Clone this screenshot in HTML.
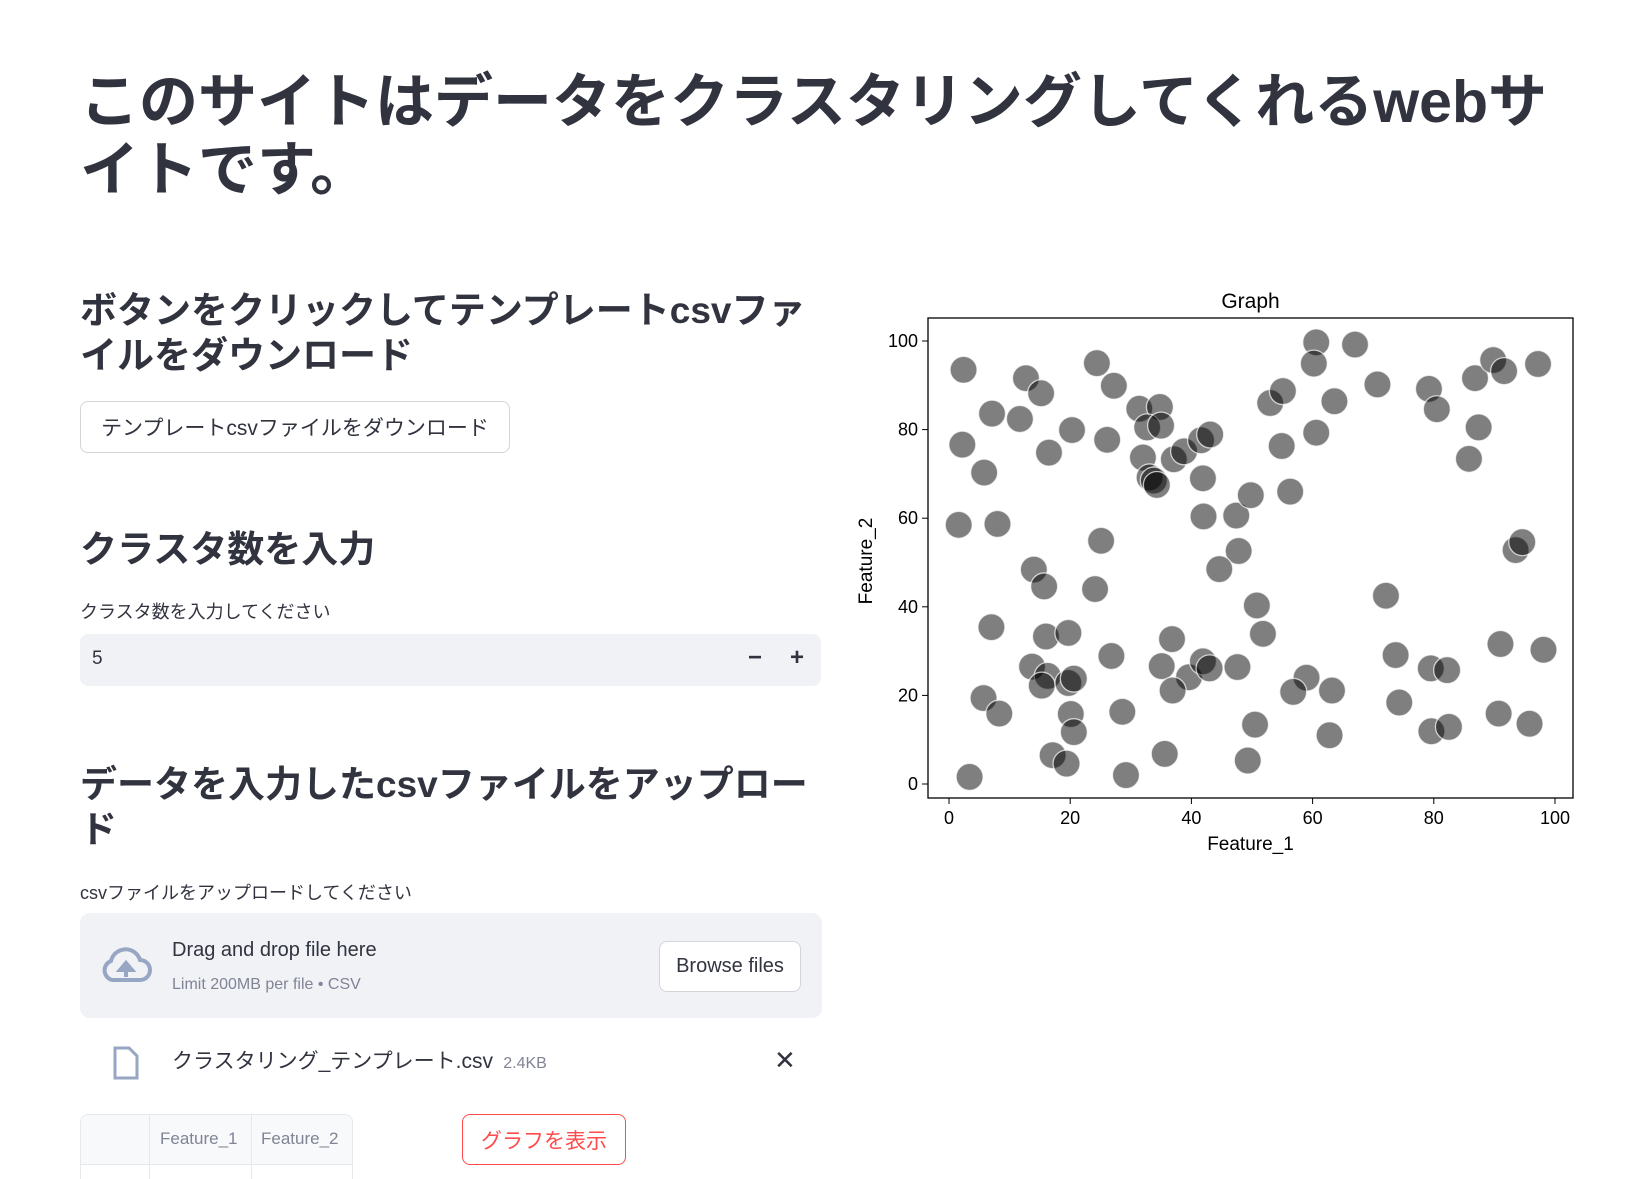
<!DOCTYPE html>
<html style="overflow:hidden;width:1639px;height:1179px"><head><meta charset="utf-8">
<style>
html,body{margin:0;width:1639px;height:1179px;overflow:hidden}
body{background:#fff;font-family:"Liberation Sans","Noto Sans CJK JP",sans-serif;color:#31333f;position:relative}
.a{position:absolute;white-space:nowrap}
h1{position:absolute;left:80px;top:68px;margin:0;font-size:59px;line-height:68px;font-weight:700;width:1550px;white-space:nowrap}
h2{position:absolute;margin:0;font-size:37px;line-height:45px;font-weight:700;left:80px;white-space:nowrap}
.btn{position:absolute;border:1px solid #d3d5db;border-radius:8px;background:#fff;display:flex;align-items:center;justify-content:center;box-sizing:border-box}
.lbl{position:absolute;left:80px;font-size:18px}
</style></head><body>
<h1>このサイトはデータをクラスタリングしてくれるwebサ<br>イトです。</h1>
<h2 style="top:288px">ボタンをクリックしてテンプレートcsvファ<br>イルをダウンロード</h2>
<div class="btn" style="left:80px;top:401px;width:430px;height:52px;font-size:21px">テンプレートcsvファイルをダウンロード</div>
<h2 style="top:527px">クラスタ数を入力</h2>
<div class="lbl" style="top:598px">クラスタ数を入力してください</div>
<div style="position:absolute;left:80px;top:634px;width:741px;height:52px;background:#f0f2f6;border-radius:8px">
<span class="a" style="left:12px;top:14px;font-size:19px">5</span>
<span class="a" style="left:668px;top:10px;font-size:24px;font-weight:700">−</span>
<span class="a" style="left:710px;top:10px;font-size:24px;font-weight:700">+</span>
</div>
<h2 style="top:762px">データを入力したcsvファイルをアップロー<br>ド</h2>
<div class="lbl" style="top:879px">csvファイルをアップロードしてください</div>
<div style="position:absolute;left:80px;top:913px;width:742px;height:105px;background:#f0f2f6;border-radius:10px">
<svg class="a" style="left:20px;top:34px" width="52" height="36" viewBox="0 0 52 36"><path d="M12 33 H40 A10 10 0 0 0 40 13 A15 15 0 0 0 11 14 A10 10 0 0 0 12 33Z" fill="none" stroke="#97a6c3" stroke-width="4"/><path d="M26 30 V18 M20 23 L26 16 L32 23Z" stroke="#97a6c3" stroke-width="4" fill="#97a6c3"/></svg>
<span class="a" style="left:92px;top:26px;font-size:20px">Drag and drop file here</span>
<span class="a" style="left:92px;top:63px;font-size:16px;color:#808495">Limit 200MB per file • CSV</span>
<div class="btn" style="left:579px;top:28px;width:142px;height:51px;font-size:20px">Browse files</div>
</div>
<svg class="a" style="left:112px;top:1046px" width="28" height="34" viewBox="0 0 28 34"><path d="M3 2 H17 L25 10 V32 H3Z" fill="none" stroke="#97a6c3" stroke-width="3"/></svg>
<span class="a" style="left:172px;top:1045px;font-size:21px">クラスタリング_テンプレート.csv <span style="font-size:16px;color:#808495">&nbsp;2.4KB</span></span>
<span class="a" style="left:774px;top:1045px;font-size:26px">✕</span>
<div style="position:absolute;left:80px;top:1114px;width:271px;height:70px;border:1px solid #e6e8ee;border-radius:8px 8px 0 0;overflow:hidden">
<div style="position:absolute;left:0;top:0;width:271px;height:49px;background:#f8f9fb;border-bottom:1px solid #e6e8ee"></div>
<div style="position:absolute;left:68px;top:0;width:1px;height:70px;background:#e6e8ee"></div>
<div style="position:absolute;left:170px;top:0;width:1px;height:70px;background:#e6e8ee"></div>
<span class="a" style="left:79px;top:14px;font-size:17px;color:#808495">Feature_1</span>
<span class="a" style="left:180px;top:14px;font-size:17px;color:#808495">Feature_2</span>
</div>
<div class="btn" style="left:462px;top:1114px;width:164px;height:51px;font-size:21px;color:#ff4b4b;border-color:#ff4b4b">グラフを表示</div>

<svg id="chart" style="position:absolute;left:0;top:0" width="1639" height="1179" font-family="Liberation Sans, DejaVu Sans, sans-serif"></svg>
<script>
const xVals=[2.4,12.7,15.2,7.1,11.7,2.2,5.8,16.5,20.3,24.4,27.2,26.1,31.4,34.8,32.7,35,32,33.1,33.8,34.3,37.1,38.8,41.6,43.1,41.9,42,47.4,49.8,53,55.1,54.9,56.3,60.6,60.2,60.6,63.6,67,70.7,79.2,80.5,86.8,89.8,91.6,97.2,87.4,85.8,93.5,94.6,1.6,8,25.1,14,15.7,24.1,47.8,44.6,50.8,51.8,72.1,7,16,19.7,36.8,26.8,13.7,16.3,15.3,19.7,20.6,35.1,39.6,36.9,41.9,43,47.6,59,56.8,63.2,73.7,74.3,79.5,82.2,91,98.1,5.7,8.3,20.1,20.6,28.6,17.1,19.4,3.4,29.2,35.6,49.3,50.5,62.8,79.6,82.5,90.7,95.8];
const yVals=[93.5,91.6,88.2,83.6,82.4,76.6,70.3,74.8,79.9,95,89.9,77.7,84.7,85.1,80.5,80.9,73.7,69.2,68.5,67.5,73.3,75.1,77.6,78.9,69,60.4,60.6,65.2,86,88.7,76.3,66,99.7,94.9,79.3,86.4,99.2,90.2,89.2,84.6,91.6,95.7,93.2,94.8,80.5,73.4,52.8,54.6,58.5,58.7,54.9,48.4,44.6,44,52.6,48.5,40.3,33.9,42.5,35.4,33.3,34.1,32.7,28.9,26.5,24.4,22.2,22.8,23.8,26.6,24.1,21.1,27.7,26.1,26.4,24,20.8,21.1,29.1,18.4,26.1,25.7,31.6,30.3,19.4,15.9,15.8,11.7,16.3,6.5,4.6,1.6,2,6.8,5.3,13.4,11,11.9,12.9,15.9,13.6];
const xTicks=[0,20,40,60,80,100];
const yTicks=[0,20,40,60,80,100];
const NS="http://www.w3.org/2000/svg";
const svg=document.getElementById('chart');
const L=928,R=1573,T=318,B=798;
const sx=v=>949+(v/100)*(1555-949);
const sy=v=>784-(v/100)*(784-341);
function mk(tag,attrs,parent){const e=document.createElementNS(NS,tag);for(const k in attrs)e.setAttribute(k,attrs[k]);(parent||svg).appendChild(e);return e;}
const frame=mk('rect',{x:L,y:T,width:R-L,height:B-T,fill:'none',stroke:'#000','stroke-width':1.3});


xTicks.forEach(t=>{
  const l=mk('line',{x1:sx(t),x2:sx(t),y1:B,y2:B+6,stroke:'#000'});
  
  
  const tx=mk('text',{x:sx(t),y:B+26,'text-anchor':'middle','font-size':18});
  tx.textContent=t;
  
  
});
yTicks.forEach(t=>{
  const l=mk('line',{x1:L-6,x2:L,y1:sy(t),y2:sy(t),stroke:'#000'});
  
  
  const tx=mk('text',{x:L-10,y:sy(t)+6,'text-anchor':'end','font-size':18});
  tx.textContent=t;
  
  
});
xVals.forEach((v,i)=>{
  const c=mk('circle',{cx:sx(v),cy:sy(yVals[i]),r:13.5,fill:'rgba(0,0,0,0.5)',stroke:'rgba(255,255,255,0.7)','stroke-width':1.3});
  
  
});
const tt=mk('text',{x:(L+R)/2,y:308,'text-anchor':'middle','font-size':21});
tt.textContent='Graph';


const xl=mk('text',{x:(L+R)/2,y:850,'text-anchor':'middle','font-size':19});
xl.textContent='Feature_1';


const yl=mk('text',{x:0,y:0,'text-anchor':'middle','font-size':19,transform:'translate(872,561) rotate(-90)'});
yl.textContent='Feature_2';


</script>
</body></html>
